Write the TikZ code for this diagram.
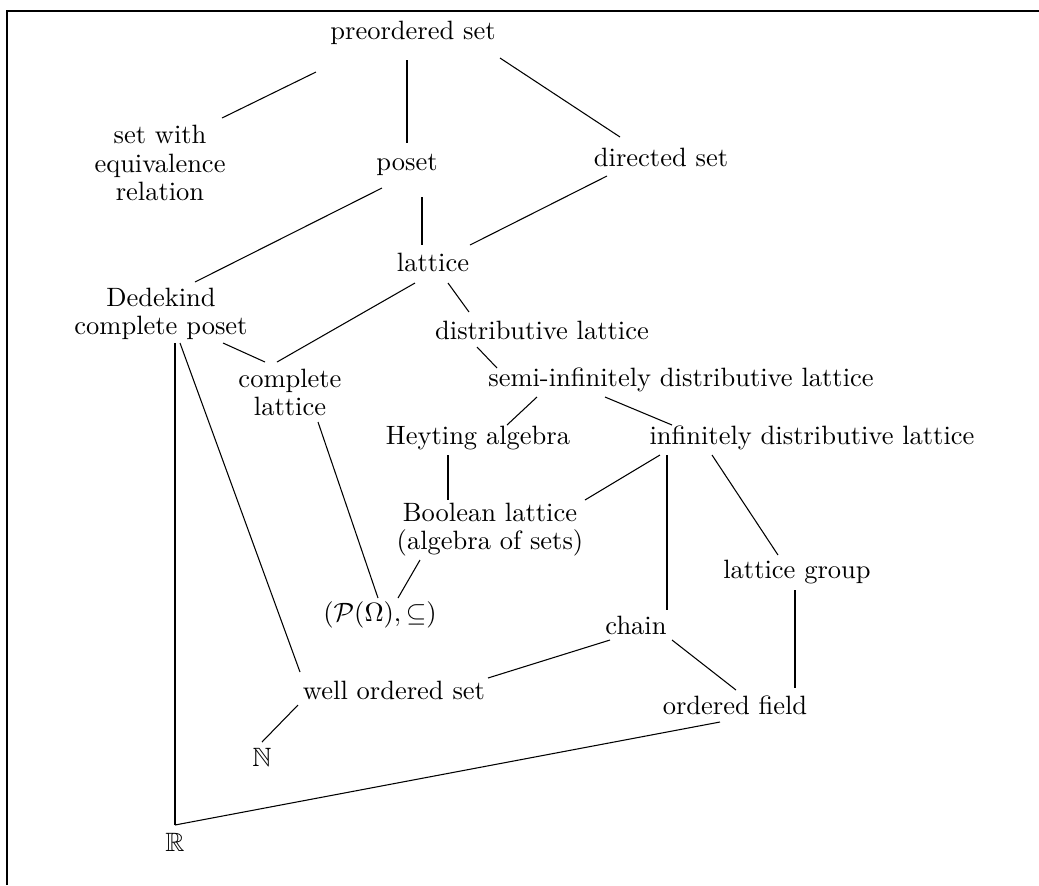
\documentclass[tikz,border=0pt]{standalone}
\usepackage{amssymb}
\begin{document}
\begin{tikzpicture}[x=0.3774pt,y=-0.3774pt,
  lbl/.style={inner sep=0pt, align=center, font=\fontsize{10}{10.6}\selectfont},
  edge/.style={line width=0.4pt}]
\useasboundingbox (0,0) rectangle (1039,885);
% frame
\draw[line width=0.8pt] (7,885) -- (7,11) -- (1039,11);

% nodes
\node[lbl] (pre)   at (413,33)  {preordered set};
\node[lbl] (eqv)   at (160,163) {set with\\equivalence\\relation};
\node[lbl] (poset) at (407,165) {poset};
\node[lbl] (dir)   at (661,157) {directed set};
\node[lbl] (lat)   at (433,262) {lattice};
\node[lbl] (ded)   at (161,314) {Dedekind\\complete poset};
\node[lbl] (dist)  at (542,330) {distributive lattice};
\node[lbl] (semi)  at (681,380) {semi-infinitely distributive lattice};
\node[lbl] (cl)    at (290,392) {complete\\lattice};
\node[lbl] (hey)   at (478,438) {Heyting algebra};
\node[lbl] (inf)   at (812,438) {infinitely distributive lattice};
\node[lbl] (bool)  at (490,530) {Boolean lattice\\(algebra of sets)};
\node[lbl] (lg)    at (797,572) {lattice group};
\node[lbl] (pow)   at (380,615) {$(\mathcal{P}(\Omega),\subseteq)$};
\node[lbl] (chain) at (636,625) {chain};
\node[lbl] (wos)   at (394,690) {well ordered set};
\node[lbl] (of)    at (735,705) {ordered field};
\node[lbl] (N)     at (262,757) {$\mathbb{N}$};
\node[lbl] (R)     at (175,842) {$\mathbb{R}$};

% connectors
\draw[edge] ([shift={(-97,39)}]pre.center)   -- ([shift={(62,-45)}]eqv.center);
\draw[edge] ([shift={(-6,27)}]pre.center)    -- ([shift={(0,-22)}]poset.center);
\draw[edge] ([shift={(87,25)}]pre.center)    -- ([shift={(-41,-20)}]dir.center);
\draw[edge] ([shift={(-25,23)}]poset.center) -- ([shift={(34,-32)}]ded.center);
\draw[edge] ([shift={(15,32)}]poset.center)  -- ([shift={(-11,-17)}]lat.center);
\draw[edge] ([shift={(-54,19)}]dir.center)   -- ([shift={(37,-17)}]lat.center);
\draw[edge] ([shift={(-18,21)}]lat.center)   -- ([shift={(-13,-30)}]cl.center);
\draw[edge] ([shift={(62,29)}]ded.center)    -- ([shift={(-25,-30)}]cl.center);
\draw[edge] ([shift={(15,21)}]lat.center)    -- ([shift={(-73,-18)}]dist.center);
\draw[edge] ([shift={(14,29)}]ded.center)    -- ([shift={(0,-17)}]R.center);
\draw[edge] ([shift={(19,29)}]ded.center)    -- ([shift={(-94,-18)}]wos.center);
\draw[edge] ([shift={(-65,17)}]dist.center)  -- ([shift={(-184,-12)}]semi.center);
\draw[edge] ([shift={(-144,17)}]semi.center) -- ([shift={(29,-13)}]hey.center);
\draw[edge] ([shift={(-76,17)}]semi.center)  -- ([shift={(-140,-13)}]inf.center);
\draw[edge] ([shift={(-30,17)}]hey.center)   -- ([shift={(-42,-30)}]bool.center);
\draw[edge] ([shift={(-152,17)}]inf.center)  -- ([shift={(95,-30)}]bool.center);
\draw[edge] ([shift={(-145,17)}]inf.center)  -- ([shift={(31,-15)}]chain.center);
\draw[edge] ([shift={(-100,17)}]inf.center)  -- ([shift={(-19,-17)}]lg.center);
\draw[edge] ([shift={(28,30)}]cl.center)     -- ([shift={(-2,-17)}]pow.center);
\draw[edge] ([shift={(-70,30)}]bool.center)  -- ([shift={(18,-17)}]pow.center);
\draw[edge] ([shift={(-2,18)}]lg.center)     -- ([shift={(60,-17)}]of.center);
\draw[edge] ([shift={(-26,15)}]chain.center) -- ([shift={(94,-12)}]wos.center);
\draw[edge] ([shift={(36,15)}]chain.center)  -- ([shift={(1,-15)}]of.center);
\draw[edge] ([shift={(-96,15)}]wos.center)   -- ([shift={(0,-15)}]N.center);
\draw[edge] ([shift={(-15,17)}]of.center)    -- ([shift={(0,-17)}]R.center);
\end{tikzpicture}
\end{document}
